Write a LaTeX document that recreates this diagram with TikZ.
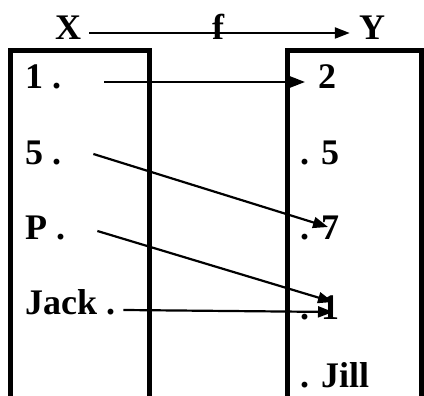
\documentclass[tikz,border=0pt]{standalone}
\usepackage{fontspec}
\setmainfont{Liberation Serif}
\usetikzlibrary{arrows.meta,calc}
\tikzset{
  setbox/.style={line width=5pt},
  maparrow/.style={-{Triangle[length=15pt,width=11pt]},line width=2.2pt},
  elem/.style={inner sep=0pt,text height=24pt,text depth=10pt,
               font=\fontsize{36}{40}\selectfont\bfseries},
}

\begin{document}
\begin{tikzpicture}[x=1pt,y=1pt]
\useasboundingbox (0,0) rectangle (424,396);
\clip (0,0) rectangle (424,396);

% =================================================================
% the two sets (open at the bottom)
% =================================================================
\draw[setbox] (10.5,-10) -- (10.5,345) -- (149,345) -- (149,-10);
\draw[setbox] (287,-10) -- (287,345) -- (421.5,345) -- (421.5,-10);

% =================================================================
% header: X --f--> Y
% =================================================================
\node[elem, anchor=base] (X) at (68,356)  {X};
\node[elem, anchor=base] (Y) at (372,356) {Y};
\draw[maparrow] ([xshift=8pt]X.east) -- ([xshift=-9pt]Y.west);
\node[elem, anchor=base] (f) at (218,356) {f};

% =================================================================
% domain X
% =================================================================
\node[elem, anchor=base west] (one)  at (25,307) {1 .};
\node[elem, anchor=base west] (five) at (25,231) {5 .};
\node[elem, anchor=base west] (pp)   at (25,156) {P .};
\node[elem, anchor=base west] (jack) at (25,81)  {Jack .};

% =================================================================
% codomain Y
% =================================================================
\node[elem, anchor=base west] (two)   at (318,307) {2};
\node[elem, anchor=base west] (rfive) at (300,231) {. 5};
\node[elem, anchor=base west] (seven) at (300,156) {. 7};
\node[elem, anchor=base west] (rone)  at (300,76)  {. 1};
\node[elem, anchor=base west] (jill)  at (300,8)   {. Jill};

% mapping arrows
\draw[maparrow] ([xshift=43pt]one.east)          -- ([xshift=-13pt]two.west);
\draw[maparrow] ([shift={(32pt,4pt)}]five.east)  -- ([shift={(28pt,6pt)}]seven.west);
\draw[maparrow] ([shift={(32pt,2pt)}]pp.east)    -- ([shift={(33pt,11pt)}]rone.west);
\draw[maparrow] ([shift={(8pt,-2pt)}]jack.east)  -- ([shift={(33pt,1pt)}]rone.west);

\end{tikzpicture}
\end{document}
